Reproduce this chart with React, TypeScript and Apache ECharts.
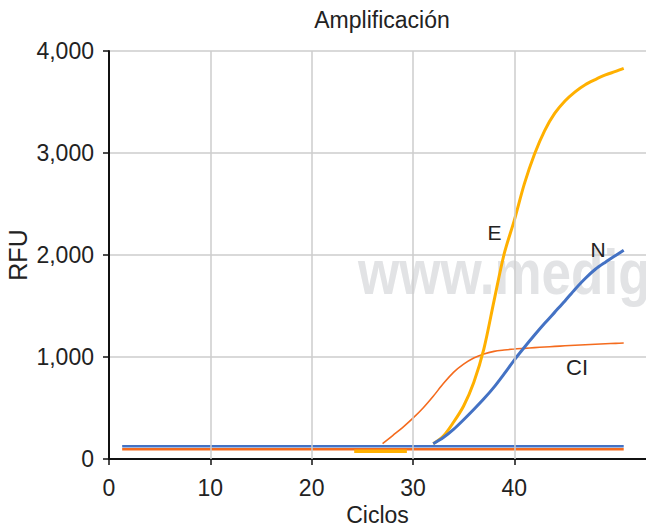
import React, { useEffect, useRef } from "react";
import * as echarts from "echarts";

const xTicks = [0, 10, 20, 30, 40];
const yTicks = [0, 1000, 2000, 3000, 4000];

const baselineN: [number, number][] = [[1.3, 125], [50.8, 125]];
const baselineCI: [number, number][] = [[1.3, 95], [50.8, 95]];
const baselineE: [number, number][] = [[24.2, 76], [29.4, 76]];

const cyclesE = [32, 33, 34, 35, 36, 37, 38, 39, 40, 41, 42, 43, 44, 45, 46, 47, 48, 49, 50, 50.8];
const valuesE = [150, 225, 360, 520, 750, 1080, 1550, 2010, 2340, 2700, 2990, 3220, 3390, 3510, 3600, 3670, 3720, 3765, 3800, 3830];

const cyclesN = [32, 33, 34, 35, 36, 37, 38, 39, 40, 41, 42, 43, 44, 45, 46, 47, 48, 49, 50, 50.8];
const valuesN = [150, 210, 290, 385, 485, 590, 705, 835, 970, 1095, 1215, 1330, 1440, 1550, 1665, 1770, 1860, 1930, 1995, 2047];

const cyclesCI = [27, 28, 29, 30, 31, 32, 33, 34, 35, 36, 37, 38, 39, 40, 41, 42, 43, 44, 45, 46, 47, 48, 49, 50, 50.8];
const valuesCI = [150, 230, 310, 400, 500, 615, 740, 850, 930, 990, 1030, 1055, 1068, 1078, 1085, 1092, 1098, 1104, 1110, 1115, 1120, 1125, 1130, 1134, 1137];

const FONT = "'Liberation Sans', Arial, Helvetica, sans-serif";
const BLUE = "#4472C4";
const YELLOW = "#FFB000";
const ORANGE = "#F46B1E";
const GRID = "#cccccc";

const zip = (xs: number[], ys: number[]) => xs.map((x, i) => [x, ys[i]]);

export default function App() {
  const ref = useRef<HTMLDivElement>(null);
  useEffect(() => {
    if (!ref.current) return;
    const chart = echarts.init(ref.current, undefined, { renderer: "svg" });
    chart.setOption({
      animation: false,
      backgroundColor: "#ffffff",
      title: {
        text: "Amplificación",
        left: 382,
        top: 8,
        textAlign: "center",
        padding: 0,
        textStyle: { fontFamily: FONT, fontSize: 23, fontWeight: "normal", color: "#222" },
      },
      grid: { left: 109, right: 0, top: 51, bottom: 68, containLabel: false, outerBoundsMode: "none" },
      xAxis: {
        type: "value",
        min: 0,
        max: 53,
        interval: 10,
        name: "Ciclos",
        nameLocation: "middle",
        nameGap: 44,
        nameMoveOverlap: false,
        nameTextStyle: { fontFamily: FONT, fontSize: 23, color: "#222" },
        axisLine: { show: true, lineStyle: { color: "#111", width: 2 } },
        axisTick: { show: true, length: 6, lineStyle: { color: "#111", width: 1.5 }, customValues: xTicks },
        axisLabel: { fontFamily: FONT, fontSize: 23, color: "#222", margin: 17, customValues: xTicks },
        splitLine: { show: false },
      },
      yAxis: {
        type: "value",
        min: 0,
        max: 4000,
        interval: 1000,
        name: "RFU",
        nameLocation: "middle",
        nameRotate: 90,
        nameGap: 79,
        nameMoveOverlap: false,
        nameTextStyle: { fontFamily: FONT, fontSize: 25, color: "#222" },
        axisLine: { show: true, lineStyle: { color: "#111", width: 2 } },
        axisTick: { show: true, length: 6, lineStyle: { color: "#111", width: 1.5 } },
        axisLabel: {
          fontFamily: FONT,
          fontSize: 23,
          color: "#222",
          margin: 15,
          customValues: yTicks,
          formatter: (v: number) => v.toLocaleString("en-US"),
        },
        splitLine: { show: true, lineStyle: { color: GRID, width: 1.5 } },
      },
      graphic: [
        {
          type: "text",
          x: 358,
          y: 273,
          scaleX: 0.855,
          z: -10,
          silent: true,
          style: {
            text: "www.medigraphic.com",
            x: 0,
            y: 0,
            fill: "#e2e3e5",
            font: `bold 62px ${FONT}`,
            textAlign: "left",
            verticalAlign: "middle",
          },
        },
        {
          type: "text",
          x: 494.5,
          y: 232,
          z: 100,
          style: { text: "E", fill: "#222", font: `21px ${FONT}`, textAlign: "center", verticalAlign: "middle" },
        },
        {
          type: "text",
          x: 598,
          y: 249.5,
          z: 100,
          style: { text: "N", fill: "#222", font: `21px ${FONT}`, textAlign: "center", verticalAlign: "middle" },
        },
        {
          type: "text",
          x: 577,
          y: 367,
          z: 100,
          style: { text: "CI", fill: "#222", font: `22px ${FONT}`, textAlign: "center", verticalAlign: "middle" },
        },
      ],
      series: [
        {
          type: "line",
          data: [],
          silent: true,
          markLine: {
            silent: true,
            symbol: ["none", "none"],
            label: { show: false },
            lineStyle: { color: GRID, width: 1.5, type: "solid" },
            data: xTicks.filter((t) => t > 0).map((t) => ({ xAxis: t })),
          },
        },
        {
          type: "line",
          data: baselineN,
          showSymbol: false,
          lineStyle: { color: BLUE, width: 2.5 },
          itemStyle: { color: BLUE },
        },
        {
          type: "line",
          data: baselineCI,
          showSymbol: false,
          lineStyle: { color: ORANGE, width: 2.5 },
          itemStyle: { color: ORANGE },
        },
        {
          type: "line",
          data: baselineE,
          showSymbol: false,
          lineStyle: { color: YELLOW, width: 3.5 },
          itemStyle: { color: YELLOW },
        },
        {
          type: "line",
          data: zip(cyclesCI, valuesCI),
          showSymbol: false,
          smooth: 0.3,
          lineStyle: { color: ORANGE, width: 1.6 },
          itemStyle: { color: ORANGE },
        },
        {
          type: "line",
          data: zip(cyclesE, valuesE),
          showSymbol: false,
          smooth: 0.3,
          lineStyle: { color: YELLOW, width: 3 },
          itemStyle: { color: YELLOW },
        },
        {
          type: "line",
          data: zip(cyclesN, valuesN),
          showSymbol: false,
          smooth: 0.3,
          lineStyle: { color: BLUE, width: 3 },
          itemStyle: { color: BLUE },
        },
      ],
    });
    return () => chart.dispose();
  }, []);
  return <div ref={ref} style={{ position: "fixed", left: 0, top: 0, width: 646, height: 527 }} />;
}
